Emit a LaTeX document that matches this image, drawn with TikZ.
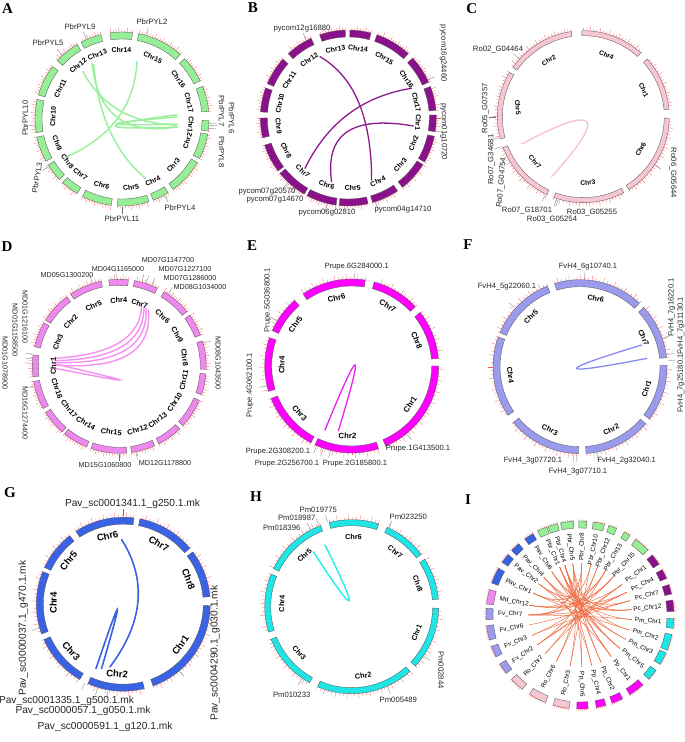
\documentclass[tikz,border=0pt]{standalone}
\usepackage{fontspec}
\setmainfont{Liberation Sans}
\newfontfamily\serifbf{Liberation Serif}
\usetikzlibrary{calc}
\definecolor{tickred}{HTML}{FF5A5A}
\definecolor{cA}{HTML}{96EE96}\definecolor{lA}{HTML}{9CF09C}
\definecolor{cB}{HTML}{8B108B}\definecolor{lB}{HTML}{8E1A8E}
\definecolor{cC}{HTML}{F7C6D3}\definecolor{lC}{HTML}{F5C4D2}
\definecolor{cD}{HTML}{EE88EE}\definecolor{lD}{HTML}{F590F2}
\definecolor{cE}{HTML}{FF00FF}\definecolor{lE}{HTML}{F020F0}
\definecolor{cF}{HTML}{9B9BEE}\definecolor{lF}{HTML}{8888F0}
\definecolor{cG}{HTML}{3A62E4}\definecolor{lG}{HTML}{3A62E4}
\definecolor{cH}{HTML}{1EE6E6}\definecolor{lH}{HTML}{22EEEE}
\definecolor{cIlink}{HTML}{EE6A3F}
\newcounter{nd}
\tikzset{
  chrbox/.style={draw=black!65, line width=0.35pt},
  tickline/.style={draw=tickred, line width=0.3pt},
  chrlab/.style={font=\bfseries\fontsize{\chrfs}{\chrfs}\selectfont, inner sep=0pt},
  genelab/.style={font=\fontsize{\genefs}{\genefs}\selectfont, inner sep=0pt, text=black!85},
  leader/.style={draw=black!55, line width=0.3pt},
  panellab/.style={font=\serifbf\bfseries\fontsize{15}{15}\selectfont, inner sep=0pt},
  lnk/.style={line width=1.5pt, line cap=round},
  ilab/.style={font=\fontsize{6.3}{6.3}\selectfont, inner sep=0pt},
  ilink/.style={draw=cIlink, line width=0.45pt},
}
\newcommand\chrseg[4][]{%
  \pgfmathsetmacro\am{(#2+#3)/2}%
  \pgfmathsetmacro\an{mod(\am+720,360)}%
  \pgfmathsetmacro\rot{(\an<180 || \an>354) ? \an-90 : \an+90}%
  \def\tmparg{#1}\ifx\tmparg\empty\else\def\rot{#1}\fi
  \filldraw[chrbox,fill=\chrcol] (#2:\Rin) arc[start angle=#2,end angle=#3,radius=\Rin] -- (#3:\Rout) arc[start angle=#3,end angle=#2,radius=\Rout] -- cycle;
  \pgfmathsetmacro\tnext{#2+\tstep}%
  \foreach \t [count=\k] in {#2,\tnext,...,#3}{%
    \pgfmathsetmacro\tkl{mod(\k,3)==0 ? \tlmaj : \tlmin}%
    \draw[tickline] (\t:\Rout) -- (\t:{\Rout+\tkl});
  }%
  \stepcounter{nd}%
  \node[chrlab,rotate=\rot] (c\arabic{nd}) at (\am:\Rlab) {#4};
}
\newcommand\gene[4][0]{%
  \draw[leader] (#2:{\Rout+1}) -- (#2:{\Rout+8});
  \stepcounter{nd}%
  \node[genelab,rotate=#1] (g\arabic{nd}) at (#3) {#4};
}
\newcommand\qlink[4]{\draw[#1] (#2) .. controls ($(#2)!0.6667!(#3)$) and ($(#4)!0.6667!(#3)$) .. (#4);}
\newcommand\ichr[4]{%
  \pgfmathsetmacro\aa{#1-#2}\pgfmathsetmacro\ab{#1+#2}%
  \filldraw[chrbox,fill=#3] (\aa:87) arc[start angle=\aa,end angle=\ab,radius=87] -- (\ab:94) arc[start angle=\ab,end angle=\aa,radius=94] -- cycle;
  \pgfmathsetmacro\tn{\aa+1.2}%
  \foreach \t in {\aa,\tn,...,\ab}{\draw[tickline] (\t:94) -- (\t:95.6);}%
  \pgfmathsetmacro\an{mod(#1+720,360)}%
  \pgfmathtruncatemacro\side{(\an<=90 || \an>270) ? 1 : 0}%
  \stepcounter{nd}%
  \ifnum\side=1
    \node[ilab,rotate=\an,anchor=east] (i\arabic{nd}) at (#1:82) {#4};
  \else
    \pgfmathsetmacro\rr{\an-180}%
    \node[ilab,rotate=\rr,anchor=west] (i\arabic{nd}) at (#1:82) {#4};
  \fi
}
\begin{document}
\begin{tikzpicture}[x=1pt,y=1pt]
\fill[white] (0,0) rectangle (685,742);
\useasboundingbox (0,0) rectangle (685,742);
% panel letters
\node[panellab] (LA) at (7.5,733.5) {A};
\node[panellab] (LB) at (253,734.5) {B};
\node[panellab] (LC) at (471.7,733.5) {C};
\node[panellab] (LD) at (7,495) {D};
\node[panellab] (LE) at (252,496) {E};
\node[panellab] (LF) at (468,497) {F};
\node[panellab] (LG) at (10,249) {G};
\node[panellab] (LH) at (256,245) {H};
\node[panellab] (LI) at (468,242) {I};

% ---------------- A
\begin{scope}[shift={(122,623)}]
\def\Rin{80}\def\Rout{87}\def\Rlab{69}\def\chrcol{cA}\def\tstep{1.8}\def\tlmin{2.5}\def\tlmaj{4.5}\def\chrfs{7}\def\genefs{7.7}
\qlink{lnk,draw=lA}{-55,-37.7}{11.7,-7.7}{15,57.3}
\qlink{lnk,draw=lA}{-39,47.3}{-11.7,-4.3}{55,-6}
\qlink{lnk,draw=lA}{-30,55.7}{-21.7,-21}{55,-7.7}
\qlink{lnk,draw=lA}{-28.3,54}{-21.7,-21}{23.3,-59.3}
\qlink{lnk,draw=lA}{55,4.3}{-68.4,-12}{55,-8.3}
\qlink{lnk,draw=lA}{55,2}{-65,-8}{55,-5}
\chrseg{121}{138}{Chr12}
\chrseg{104}{118}{Chr13}
\chrseg{83}{98}{Chr14}
\chrseg{48}{79}{Chr15}
\chrseg{26}{44}{Chr16}
\chrseg{5}{22}{Chr17}
\chrseg{-8}{-1}{Chr1}
\chrseg{-27}{-10}{Chr2}
\chrseg{-54}{-30}{Chr3}
\chrseg{-69}{-58}{Chr4}
\chrseg{-93}{-72}{Chr5}
\chrseg{-117}{-97}{Chr6}
\chrseg{-133}{-121}{Chr7}
\chrseg{-148}{-136}{Chr8}
\chrseg{-168}{-151}{Chr9}
\chrseg{167}{189}{Chr10}
\chrseg{143}{164}{Chr11}
\gene{114}{-42,92}{PbrPYL9}
\gene{74}{30,97}{PbrPYL2}
\gene{133}{-74,76}{PbrPYL5}
\gene[90]{184}{-97,1}{PbrPYL10}
\gene[80]{213}{-85,-59}{PbrPYL3}
\gene[-90]{-3}{99.7,8}{PbrPYL7}
\gene[-90]{-4}{109.7,1}{PbrPYL6}
\gene[-90]{-6}{99.7,-33}{PbrPYL8}
\gene{-90}{0,-100}{PbrPYL11}
\gene{-61}{58,-89}{PbrPYL4}
\end{scope}

% ---------------- B
\begin{scope}[shift={(348.3,624)}]
\def\Rin{81}\def\Rout{88}\def\Rlab{70}\def\chrcol{cB}\def\tstep{1.8}\def\tlmin{2.5}\def\tlmaj{4.5}\def\chrfs{7}\def\genefs{7.7}
\qlink{lnk,draw=lB,line width=1.3pt}{-28.3,61.3}{23.3,31.3}{23.3,-62}
\qlink{lnk,draw=lB,line width=1.3pt}{63.3,29.7}{-10,18}{-43.3,-50.3}
\qlink{lnk,draw=lB,line width=1.3pt}{65,-8}{-26.7,8}{-16.7,-63.7}
\chrseg{115}{133}{Chr12}
\chrseg{92}{109}{Chr13}
\chrseg{75}{89}{Chr14}
\chrseg{47}{71}{Chr15}
\chrseg{24}{43}{Chr16}
\chrseg{5}{21}{Chr17}
\chrseg{-9}{2}{Chr1}
\chrseg{-30}{-12}{Chr2}
\chrseg{-52}{-32}{Chr3}
\chrseg{-74}{-56}{Chr4}
\chrseg{-96}{-77}{Chr5}
\chrseg{-118}{-98}{Chr6}
\chrseg{-141}{-120}{Chr7}
\chrseg{-162}{-143}{Chr8}
\chrseg{180}{193}{Chr9}
\chrseg{160}{176}{Chr10}
\chrseg{138}{157}{Chr11}
\gene{118}{-46.3,89}{pycom12g16880}
\gene[-90]{25.5}{95,64.7}{pycom16g24460}
\gene[-90]{-8.5}{95.4,-13.7}{pycom01g10720}
\gene{-133}{-81.3,-74}{pycom07g20570}
\gene{-128}{-73.3,-82}{pycom07g14670}
\gene{-104}{-21.3,-95}{pycom06g02810}
\gene{-72}{54.7,-92}{pycom04g14710}
\end{scope}

% ---------------- C
\begin{scope}[shift={(583.3,625.3)}]
\def\Rin{81}\def\Rout{86}\def\Rlab{66}\def\chrcol{cC}\def\tstep{2.2}\def\tlmin{2.5}\def\tlmaj{4.5}\def\chrfs{6.6}\def\genefs{7.7}
\qlink{lnk,draw=lC,line width=1.4pt}{-61.7,-27.3}{53.3,33.7}{-31.7,-60}
\chrseg{48}{91}{Chr4}
\chrseg{5}{42}{Chr1}
\chrseg{-58}{-1}{Chr6}
\chrseg{-110}{-62}{Chr3}
\chrseg{-159}{-115}{Chr7}
\chrseg[-85]{149}{195}{Chr5}
\chrseg{98}{145}{Chr2}
\gene{138}{-85.3,66.7}{Ro02\_G04464}
\gene[90]{180}{-97.8,8.5}{Ro05\_G07357}
\gene[90]{-166}{-91.8,-43}{Ro07\_G34681}
\gene[85]{-160}{-81.6,-66}{Ro07\_G04754}
\gene[-90]{-34}{89.7,-56.3}{Ro06\_G05644}
\gene{-116}{-56.3,-94.3}{Ro07\_G18701}
\gene{-107}{8.7,-96.3}{Ro03\_G05255}
\gene{-108}{-31.3,-103.3}{Ro03\_G05254}
\end{scope}

% ---------------- D
\begin{scope}[shift={(119.3,375.7)}]
\def\Rin{81}\def\Rout{87}\def\Rlab{66}\def\chrcol{cD}\def\tstep{1.8}\def\tlmin{2.5}\def\tlmaj{4.5}\def\chrfs{7.4}\def\genefs{7.2}
\qlink{lnk,draw=lD,line width=1.4pt}{-64.3,8}{20,13}{22.3,59.7}
\qlink{lnk,draw=lD,line width=1.4pt}{-64.3,5.7}{25,7}{24.7,59}
\qlink{lnk,draw=lD,line width=1.4pt}{-64.3,3.7}{30,1}{26.7,58}
\qlink{lnk,draw=lD,line width=1.4pt}{-64.3,1.3}{35,-6}{29,56.3}
\qlink{lnk,draw=lD,line width=1.4pt}{-64.3,2.3}{65.7,-27.6}{-64.3,-2}
\chrseg{84}{97}{Chr4}
\chrseg{64}{80}{Chr7}
\chrseg{39}{59}{Chr6}
\chrseg{21}{36}{Chr9}
\chrseg{-2}{17}{Chr8}
\chrseg{-19}{-5}{Chr11}
\chrseg{-43}{-23}{Chr10}
\chrseg{-63}{-46}{Chr13}
\chrseg{-82}{-66}{Chr12}
\chrseg{-109}{-85}{Chr15}
\chrseg{-129}{-112}{Chr14}
\chrseg{-148}{-131}{Chr17}
\chrseg{-170}{-151}{Chr16}
\chrseg{172.5}{187}{Chr1}
\chrseg{150}{167}{Chr3}
\chrseg{127}{148}{Chr2}
\chrseg{102}{124}{Chr5}
\gene{75}{48.7,106.3}{MD07G1147700}
\gene{92}{-1.3,97.3}{MD04G1165000}
\gene{72}{65.7,97.3}{MD07G1227100}
\gene{108}{-52.3,91.3}{MD05G1300200}
\gene{68}{70.7,88.3}{MD07G1286000}
\gene{56}{80.7,79.3}{MD08G1034000}
\gene[-90]{172}{-94.3,49.3}{MD01G1216100}
\gene[-90]{175}{-104.3,36.3}{MD01G1158500}
\gene[-90]{178}{-114.3,3.3}{MD01G1078900}
\gene[-90]{-167}{-94.3,-46.7}{MD16G1274400}
\gene[-90]{15.5}{98.7,3.3}{MD08G1043500}
\gene{-90}{-14.3,-98.7}{MD15G1060800}
\gene{-79}{45.7,-96.7}{MD12G1178800}
\end{scope}

% ---------------- E
\begin{scope}[shift={(351.7,376)}]
\def\Rin{80}\def\Rout{87}\def\Rlab{70}\def\chrcol{cE}\def\tstep{2.5}\def\tlmin{2.5}\def\tlmaj{5}\def\chrfs{7.8}\def\genefs{7.6}
\qlink{lnk,draw=lE,line width=1.3pt}{-26.7,-64}{26.6,66.4}{-13.3,-64.7}
\chrseg{81}{124}{Chr6}
\chrseg{43}{75}{Chr7}
\chrseg{5}{38}{Chr8}
\chrseg{-67}{0}{Chr1}
\chrseg{-115}{-72}{Chr2}
\chrseg{-158}{-118}{Chr3}
\chrseg{161}{197}{Chr4}
\chrseg{131}{156}{Chr5}
\gene{88}{5,99.3}{Prupe.6G284000.1}
\gene[90]{149}{-84,66}{Prupe.5G036800.1}
\gene[90]{-167}{-101.7,-19}{Prupe.4G062100.1}
\gene{-51}{66.3,-83}{Prupe.1G413500.1}
\gene{-113.6}{-73.7,-86}{Prupe.2G308200.1}
\gene{-109}{-64.7,-98}{Prupe.2G256700.1}
\gene{-104}{3.3,-98}{Prupe.2G185800.1}
\end{scope}

% ---------------- F
\begin{scope}[shift={(580,375.3)}]
\def\Rin{80}\def\Rout{87}\def\Rlab{70}\def\chrcol{cF}\def\tstep{2.5}\def\tlmin{2.5}\def\tlmaj{5}\def\chrfs{7.3}\def\genefs{7.6}
\qlink{lnk,draw=lF,line width=1.3pt}{61.7,21.7}{-70.8,-18.4}{66.7,8.3}
\chrseg{47}{107}{Chr6}
\chrseg{6}{43}{Chr7}
\chrseg{-37}{1}{Chr1}
\chrseg{-86}{-41}{Chr2}
\chrseg{-140}{-91}{Chr3}
\chrseg{160}{214}{Chr4}
\chrseg{112}{157}{Chr5}
\gene{87}{8,99.7}{FvH4\_6g10740.1}
\gene{138}{-73,79.7}{FvH4\_5g22060.1}
\gene[90]{19}{91.7,59.2}{FvH4\_7g16220.1}
\gene[90]{8}{101,40.7}{FvH4\_7g31130.1}
\gene[90]{4}{101,-16.8}{FvH4\_7g25180.1}
\gene{-79}{46.7,-94}{FvH4\_2g32040.1}
\gene{-92}{-47,-94}{FvH4\_3g07720.1}
\gene{-94}{-2,-105}{FvH4\_3g07710.1}
\end{scope}

% ---------------- G
\begin{scope}[shift={(123.3,137.8)}]
\def\Rin{80}\def\Rout{87}\def\Rlab{70}\def\chrcol{cG}\def\tstep{2.5}\def\tlmin{2.5}\def\tlmaj{5}\def\chrfs{9.5}\def\genefs{10.2}
\qlink{lnk,draw=lG,line width=1.6pt}{-1.7,64.7}{36.7,4}{-13.3,-62.7}
\qlink{lnk,draw=lG,line width=1.6pt}{-27.3,-64.3}{12.5,53.7}{-21.7,-64.3}
\chrseg{83}{123}{Chr6}
\chrseg{40}{79}{Chr7}
\chrseg{5}{37}{Chr8}
\chrseg{-70}{-1}{Chr1}
\chrseg{-114}{-76}{Chr2}
\chrseg{-156}{-120}{Chr3}
\chrseg{158}{200}{Chr4}
\chrseg{128}{155}{Chr5}
\gene{90}{9.2,100.2}{Pav\_sc0001341.1\_g250.1.mk}
\gene[90]{-164}{-100,-24.1}{Pav\_sc0000037.1\_g470.1.mk}
\gene[90]{-50}{91.7,-49.1}{Pav\_sc0004290.1\_g030.1.mk}
\gene{-116}{-56.8,-96.5}{Pav\_sc0001335.1\_g500.1.mk}
\gene{-107}{-40.3,-106.8}{Pav\_sc0000057.1\_g050.1.mk}
\gene{-100}{-18.3,-122.5}{Pav\_sc0000591.1\_g120.1.mk}
\end{scope}

% ---------------- H
\begin{scope}[shift={(351.7,135.3)}]
\def\Rin{81}\def\Rout{87}\def\Rlab{70}\def\chrcol{cH}\def\tstep{2.5}\def\tlmin{2.5}\def\tlmaj{5}\def\chrfs{7.3}\def\genefs{7.7}
\qlink{lnk,draw=lH,line width=1.4pt}{-38.3,55}{27.1,-46.4}{-26.7,61.7}
\chrseg{72}{105}{Chr6}
\chrseg{37}{66}{Chr7}
\chrseg{5}{33}{Chr8}
\chrseg{-43}{-1}{Chr1}
\chrseg{-113}{-48}{Chr2}
\chrseg{-158}{-119}{Chr3}
\chrseg{158}{197}{Chr4}
\chrseg{111}{154}{Chr5}
\gene{106}{-33.4,96.7}{Pm019775}
\gene{112}{-55,88.4}{Pm018987}
\gene{118}{-70,78.4}{Pm018396}
\gene{65}{56.6,90}{Pm023250}
\gene[-90]{-34.5}{89.3,-63.3}{Pm002844}
\gene{-66}{46.6,-93.3}{Pm005489}
\gene{-124.5}{-60,-88.3}{Pm010233}
\end{scope}

% ---------------- I
\begin{scope}[shift={(580,127)}]
\foreach \p/\q in {113/-40,113/-53,113/-28,107/-53,107/-40,107/6,98/-66,98/-17,98/180,88/-88,88/169,78/-101,78/155,70/-117,70/-145,60/-132,60/143,49/-157,49/180,36/169,36/-145,26/155,26/-169,16/180,16/-157,6/143,6/134,-5/123,-5/180,-17/155,-28/134,-40/123,-53/143,-77/113,-88/107,-101/98,-117/88,-132/36,-145/26,180/60,169/49,123/16,134/-77,-66/107}{
  \draw[ilink] (\p:52) .. controls (\p:17) and (\q:17) .. (\q:52);
}
\ichr{113.7}{3}{cA}{Pbr\_Chr1}
\ichr{106.8}{3}{cA}{Pbr\_Chr4}
\ichr{98}{4}{cA}{Pbr\_Chr5}
\ichr{88.3}{2.5}{cA}{Pbr\_Chr8}
\ichr{78.4}{3.5}{cA}{Pbr\_Chr10}
\ichr{69.6}{2.5}{cA}{Pbr\_Chr12}
\ichr{60}{2}{cA}{Pbr\_Chr13}
\ichr{48.7}{5}{cA}{Pbr\_Chr15}
\ichr{36.2}{3.5}{cB}{Pc\_Chr1}
\ichr{25.9}{3}{cB}{Pc\_Chr4}
\ichr{15.9}{3}{cB}{Pc\_Chr7}
\ichr{5.7}{3.5}{cB}{Pc\_Chr12}
\ichr{-5.2}{3}{cH}{Pm\_Chr1}
\ichr{-17}{5}{cH}{Pm\_Chr2}
\ichr{-27.7}{4}{cH}{Pm\_Chr3}
\ichr{-39.5}{3.5}{cH}{Pm\_Chr5}
\ichr{-53}{5}{cE}{Pp\_Chr1}
\ichr{-66.5}{3.5}{cE}{Pp\_Chr2}
\ichr{-77}{3}{cE}{Pp\_Chr4}
\ichr{-88.5}{3.5}{cE}{Pp\_Chr6}
\ichr{-101.6}{5}{cC}{Ro\_Chr3}
\ichr{-117}{5.5}{cC}{Ro\_Chr6}
\ichr{-132.3}{4.5}{cC}{Ro\_Chr7}
\ichr{-145.1}{3.5}{cF}{Fv\_Chr2}
\ichr{-157}{3.5}{cF}{Fv\_Chr3}
\ichr{-169}{4.5}{cF}{Fv\_Chr6}
\ichr{179.4}{3.5}{cF}{Fv\_Chr7}
\ichr{168.8}{4.5}{cD}{Md\_Chr12}
\ichr{155.1}{5}{cG}{Pav\_Chr1}
\ichr{142.9}{3}{cG}{Pav\_Chr2}
\ichr{133.7}{3}{cG}{Pav\_Chr4}
\ichr{123}{3}{cG}{Pav\_Chr6}
\end{scope}
\end{tikzpicture}
\end{document}
